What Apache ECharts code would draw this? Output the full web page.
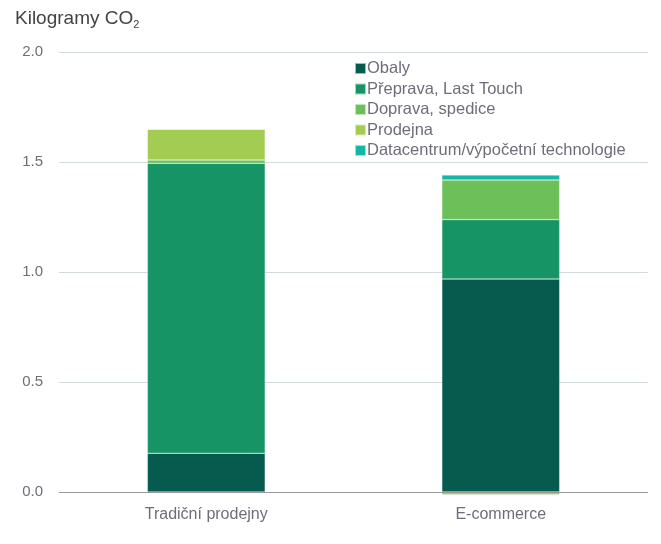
<!DOCTYPE html>
<html>
<head>
<meta charset="utf-8">
<script src="https://cdn.jsdelivr.net/npm/echarts@6/dist/echarts.min.js"></script>
<style>
  html, body { margin: 0; padding: 0; background: #fff; }
  #chart { width: 661px; height: 544px; }
</style>
</head>
<body>
<div id="chart"></div>
<script>
// categories and stacked segments (kg CO2)
const categories = ['Tradiční prodejny', 'E-commerce'];
const seriesNames = ['Obaly', 'Přeprava, Last Touch', 'Doprava, spedice', 'Prodejna', 'Datacentrum/výpočetní technologie'];
const obaly = [0.176, 0.968];
const preprava = [1.318, 0.27];
const doprava = [0.015, 0.18];
const prodejna = [0.14, -0.012];
const datacentrum = [0, 0.023];
const yTicks = [0, 0.5, 1.0, 1.5, 2.0];

const colors = ['#065a4e', '#169466', '#6dbf5a', '#a3cc53', '#13b7a6'];
const values = [obaly, preprava, doprava, prodejna, datacentrum];

const chart = echarts.init(document.getElementById('chart'));

const series = seriesNames.map((name, i) => ({
  name: name,
  type: 'bar',
  stack: 'total',
  barWidth: '40%',
  clip: false,
  data: values[i],
  itemStyle: { color: colors[i], borderColor: 'rgba(255,255,255,0.6)', borderWidth: 0.5 }
}));

chart.setOption({
  animation: false,
  textStyle: { fontFamily: 'Liberation Sans, Arial, sans-serif' },
  title: {
    text: 'Kilogramy CO{sub|2}',
    left: 10,
    top: 2,
    textStyle: {
      fontSize: 19,
      fontWeight: 'normal',
      color: '#444',
      rich: { sub: { fontSize: 11, color: '#444', verticalAlign: 'bottom', padding: [12, 0, 0, 0] } }
    }
  },
  legend: {
    orient: 'vertical',
    left: 349,
    top: 55,
    itemWidth: 11,
    itemHeight: 11,
    itemGap: 3.5,
    icon: 'rect',
    data: seriesNames,
    textStyle: { fontSize: 16.5, color: '#6e6e7a', padding: [0, 0, 0, -4] }
  },
  grid: { left: 59, right: 13, top: 52, bottom: 52, containLabel: false },
  xAxis: {
    type: 'category',
    data: categories,
    axisLine: { show: false },
    axisTick: { show: false },
    axisLabel: { fontSize: 16, color: '#6e6e7a', margin: 15 }
  },
  yAxis: {
    type: 'value',
    min: 0,
    max: 2,
    interval: 0.5,
    axisLine: { show: false },
    axisTick: { show: false },
    axisLabel: {
      fontSize: 15,
      color: '#6e6e7a',
      margin: 16,
      formatter: v => yTicks.includes(v) ? v.toFixed(1) : ''
    },
    splitLine: { lineStyle: { color: '#d3dadb', width: 1.2 } }
  },
  series: series.concat([{
    type: 'line',
    data: [],
    z: 1,
    markLine: {
      silent: true,
      symbol: 'none',
      label: { show: false },
      lineStyle: { color: '#999', type: 'solid', width: 1.2 },
      data: [{ yAxis: 0 }]
    }
  }])
});
</script>
</body>
</html>
